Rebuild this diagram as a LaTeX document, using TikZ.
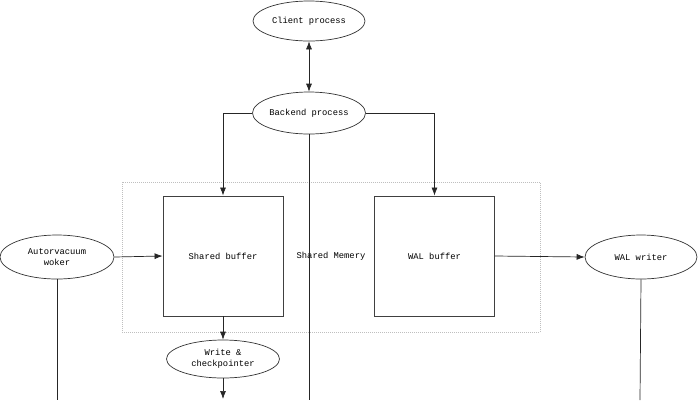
\documentclass[tikz,border=0pt]{standalone}
\usepackage{fontspec}
\setmonofont{Liberation Mono}
\usetikzlibrary{shapes.geometric,arrows.meta}
\begin{document}
\begin{tikzpicture}[x=1pt,y=-1pt,
  every node/.style={font=\ttfamily\fontsize{8.8}{11}\selectfont, text=black},
  proc/.style={ellipse, draw=black!80, line width=0.7pt, inner sep=0pt, align=center},
  buf/.style={draw=black!75, line width=0.9pt, minimum width=120pt, minimum height=120pt, inner sep=0pt},
  conn/.style={draw=black!85, line width=0.7pt},
  arr/.style={conn, -{Latex[length=8pt,width=6pt]}},
  darr/.style={conn, {Latex[length=8pt,width=6pt]}-{Latex[length=8pt,width=6pt]}}
]
\useasboundingbox (0,0) rectangle (698,400);
\fill[white] (0,0) rectangle (698,400);

% shared memory region
\node[draw=black!25, dashed, dash pattern=on 1pt off 1pt, line width=0.6pt, minimum width=418pt, minimum height=150pt, inner sep=0pt] (mem) at (331,257) {};

\node[proc, minimum width=112pt, minimum height=40pt] (client) at (309,21) {Client process};
\node[proc, minimum width=113pt, minimum height=42pt] (backend) at (309,113) {Backend process};
\node[buf] (sbuf) at (223,256) {Shared buffer};
\node[buf] (wbuf) at (434.5,256) {WAL buffer};
\node (smem) at (331,256) {Shared Memery};
\node[proc, minimum width=114pt, minimum height=44pt] (auto) at (57,257) {Autorvacuum\\woker};
\node[proc, minimum width=112pt, minimum height=44pt] (wal) at (641,257) {WAL writer};
\node[proc, minimum width=113pt, minimum height=38pt] (ckpt) at (223,359) {Write \&\\checkpointer};

\coordinate (bb) at (309,400);
\coordinate (ba) at (57,400);
\coordinate (bw) at (640,400);
\coordinate (bc) at (223,399);

\draw[darr] (client.south) -- (backend.north);
\draw[arr] (backend.west) -| (sbuf.north);
\draw[arr] (backend.east) -| (wbuf.north);
\draw[conn] (backend.south) -- (bb);
\draw[arr] (auto.east) -- (sbuf.west);
\draw[conn] (auto.south) -- (ba);
\draw[arr] (wbuf.east) -- (wal.west);
\draw[conn] (wal.south) -- (bw);
\draw[arr] (sbuf.south) -- (ckpt.north);
\draw[arr] (ckpt.south) -- (bc);
\end{tikzpicture}
\end{document}
